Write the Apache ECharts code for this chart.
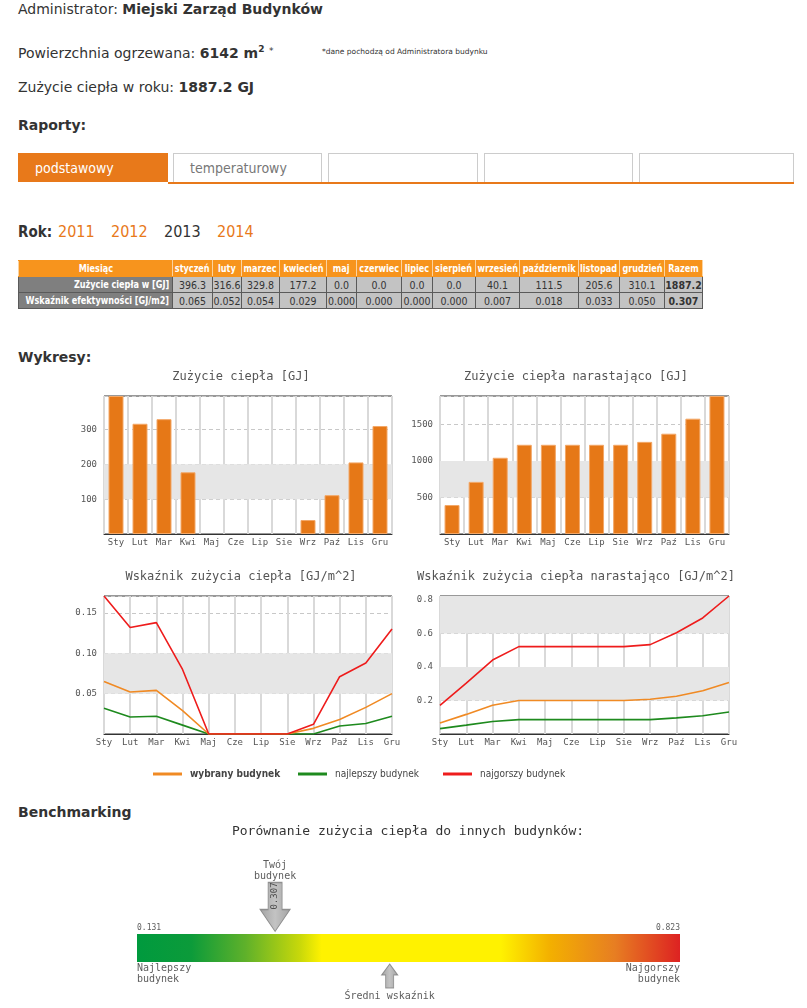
<!DOCTYPE html>
<html><head><meta charset="utf-8">
<script src="https://cdn.jsdelivr.net/npm/echarts@6/dist/echarts.min.js"></script>
<style>
body{margin:0;background:#fff;width:807px;height:1008px;overflow:hidden;position:relative;font-family:"DejaVu Sans",Verdana,sans-serif;color:#333;}
.t{position:absolute;left:18px;font-size:14px;line-height:18px;white-space:nowrap;}
.c{font-family:"DejaVu Sans Condensed","DejaVu Sans",sans-serif;font-stretch:condensed;}
.tab{position:absolute;top:153px;height:29px;width:149px;box-sizing:border-box;border:1px solid #ccc;border-bottom:none;font-size:14px;line-height:29px;padding-left:16px;color:#777;}
.tab.on{background:#e8791a;border-color:#e8791a;color:#fff;}
.yr{position:absolute;top:223px;font-size:16px;line-height:18px;}
table{position:absolute;left:18px;top:260px;width:684px;border-collapse:collapse;table-layout:fixed;font-size:10.5px;font-family:"DejaVu Sans Condensed","DejaVu Sans",sans-serif;font-stretch:condensed;}
td{height:15px;padding:0;border:1px solid #5a5a5a;white-space:nowrap;overflow:hidden;line-height:14px;}
td .f{display:flex;justify-content:center;}
td .f span{flex:none;display:inline-block;white-space:nowrap;}
td.b .f span{transform:scaleX(.82);}
tr.h td{background:#f7941d;color:#fff;font-weight:bold;font-size:11px;border-color:#f7941d #fbd3a0;}
td.lab{background:#7f7f7f;color:#fff;font-weight:bold;font-size:11px;}
td.lab .f{justify-content:flex-end;padding-right:3px;}
td.lab .f span{transform-origin:right center;}
td.v{background:#c3c3c3;color:#333;}
td.tot{font-weight:bold;}
#charts{position:absolute;left:0;top:360px;width:807px;height:430px;}
#bench{position:absolute;left:0;top:820px;width:807px;height:188px;}
</style></head><body>
<div class="t" style="top:0">Administrator: <b>Miejski Zarząd Budynków</b></div>
<div class="t" style="top:40px">Powierzchnia ogrzewana: <b>6142 m<sup style="font-size:9px">2</sup></b> <span style="font-size:9px;vertical-align:4px">*</span></div>
<div class="t" style="left:322px;top:43px;font-size:7.5px">*dane pochodzą od Administratora budynku</div>
<div class="t" style="top:78px">Zużycie ciepła w roku: <b>1887.2 GJ</b></div>
<div class="t" style="top:116px"><b>Raporty:</b></div>
<div class="tab on c" style="left:18px;width:150px">podstawowy</div>
<div class="tab c" style="left:173px">temperaturowy</div>
<div class="tab c" style="left:328px;width:150px"></div>
<div class="tab c" style="left:484px"></div>
<div class="tab c" style="left:639px;width:155px"></div>
<div style="position:absolute;left:168px;top:182px;width:626px;height:2px;background:#e8791a"></div>
<div class="yr c" style="left:18px;font-weight:bold;font-size:15px">Rok:</div>
<div class="yr c" style="left:58px;color:#e8791a">2011</div>
<div class="yr c" style="left:111px;color:#e8791a">2012</div>
<div class="yr c" style="left:164px;color:#333">2013</div>
<div class="yr c" style="left:217px;color:#e8791a">2014</div>
<table id="tbl"></table>
<div class="t" style="top:348px"><b>Wykresy:</b></div>
<div id="charts"></div>
<div class="t" style="top:803px"><b>Benchmarking</b></div>
<div id="bench"></div>
<script>
// ---- data ----
const months = ['Sty','Lut','Mar','Kwi','Maj','Cze','Lip','Sie','Wrz','Paź','Lis','Gru'];
const tableMonths = ['styczeń','luty','marzec','kwiecień','maj','czerwiec','lipiec','sierpień','wrzesień','październik','listopad','grudzień'];
const heatGJ = [396.3,316.6,329.8,177.2,0.0,0.0,0.0,0.0,40.1,111.5,205.6,310.1];
const heatCumGJ = [396.3,712.9,1042.7,1219.9,1219.9,1219.9,1219.9,1219.9,1260.0,1371.5,1577.1,1887.2];
const idxSelected = [0.065,0.052,0.054,0.029,0.000,0.000,0.000,0.000,0.007,0.018,0.033,0.050];
const idxBest = [0.032,0.021,0.022,0.011,0.000,0.000,0.000,0.000,0.000,0.010,0.013,0.022];
const idxWorst = [0.171,0.132,0.138,0.080,0.000,0.000,0.000,0.000,0.012,0.071,0.088,0.130];
const idxSelectedCum = [0.065,0.117,0.171,0.200,0.200,0.200,0.200,0.200,0.207,0.225,0.258,0.307];
const idxBestCum = [0.032,0.053,0.075,0.086,0.086,0.086,0.086,0.086,0.086,0.096,0.109,0.131];
const idxWorstCum = [0.171,0.303,0.441,0.521,0.521,0.521,0.521,0.521,0.533,0.604,0.692,0.823];
const totalGJ = 1887.2;
const totalIdx = 0.307;
const benchBest = 0.131;
const benchWorst = 0.823;
const benchYou = 0.307;
const benchAvg = 0.453;
const colWidths = [154,40,29,38,47,30,45,31,43,44,59,41,45,38];

// ---- table ----
(function(){
  const t = document.getElementById('tbl');
  const cell = (cls, txt) => '<td class="' + cls + '"><div class="f"><span>' + txt + '</span></div></td>';
  let html = '<colgroup>' + colWidths.map(w => '<col style="width:' + w + 'px">').join('') + '</colgroup>';
  html += '<tr class="h">' + cell('b', 'Miesiąc') + tableMonths.map(m => cell('b', m)).join('') + cell('b', 'Razem') + '</tr>';
  html += '<tr>' + cell('lab b', 'Zużycie ciepła w [GJ]') + heatGJ.map(v => cell('v', v.toFixed(1))).join('') + cell('v tot', totalGJ.toFixed(1)) + '</tr>';
  html += '<tr>' + cell('lab b', 'Wskaźnik efektywności [GJ/m2]') + idxSelected.map(v => cell('v', v.toFixed(3))).join('') + cell('v tot', totalIdx.toFixed(3)) + '</tr>';
  t.innerHTML = html;
})();

// ---- charts ----
const mono = '"DejaVu Sans Mono","Liberation Mono",monospace';
const cond = '"DejaVu Sans Condensed","DejaVu Sans",sans-serif';
const lab = {fontFamily: mono, fontSize: 9, color: '#555'};
const C_SEL = '#f08a24', C_BEST = '#1e8a1e', C_WORST = '#ee1c1c', C_BAR = '#e67817';
const band = '#e6e6e6';

function xAx(i, gap){
  return {gridIndex: i, type: 'category', data: months, boundaryGap: gap,
    axisTick: {show: false}, axisLine: {lineStyle: {color: '#333'}},
    axisLabel: Object.assign({}, lab, {margin: 4, interval: 0}),
    splitLine: {show: true, lineStyle: {color: '#d9d9d9', width: 2}}};
}
function yAx(i, max, interval, dec){
  return {gridIndex: i, type: 'value', min: 0, max: max, interval: interval,
    axisLine: {show: false}, axisTick: {show: false},
    axisLabel: Object.assign({}, lab, {margin: 7, showMinLabel: false, showMaxLabel: false,
      formatter: v => v.toFixed(dec)}),
    splitLine: {show: true, lineStyle: {color: '#c8c8c8', type: [4, 3]}}};
}
function title(text, cx, top){
  return {text: text, left: cx, top: top, textAlign: 'center', padding: 0,
    textStyle: {fontFamily: mono, fontSize: 12, fontWeight: 'normal', color: '#555'}};
}
const gridBase = {show: true, borderColor: '#333', borderWidth: 1, backgroundColor: 'transparent', containLabel: false};
function area(ranges){
  return {silent: true, itemStyle: {color: band}, data: ranges.map(r => [{yAxis: r[0]}, {yAxis: r[1]}])};
}
function barSeries(i, data, ranges){
  return {type: 'bar', xAxisIndex: i, yAxisIndex: i, barWidth: 15,
    data: data.map(v => v > 0 ? v : {value: v, itemStyle: {borderWidth: 0}}),
    itemStyle: {color: C_BAR, borderColor: '#f3a868', borderWidth: 1}, markArea: area(ranges), z: 3};
}
function lineSeries(i, name, data, color){
  return {type: 'line', name: name, xAxisIndex: i, yAxisIndex: i, data: data, symbol: 'none',
    lineStyle: {width: 1.6, color: color}, itemStyle: {color: color}};
}
function legendItem(name, left, bold){
  return {left: left, top: 409, padding: 0, icon: 'rect', itemWidth: 29, itemHeight: 3, selectedMode: false,
    textStyle: {fontFamily: cond, fontSize: 10, color: '#444', fontWeight: bold ? 'bold' : 'normal', padding: [0, 0, 0, 3]},
    data: [name]};
}

const chart = echarts.init(document.getElementById('charts'), null, {renderer: 'canvas'});
chart.setOption({
  animation: false,
  title: [
    title('Zużycie ciepła [GJ]', 241, 11),
    title('Zużycie ciepła narastająco [GJ]', 576, 11),
    title('Wskaźnik zużycia ciepła [GJ/m^2]', 241, 211),
    title('Wskaźnik zużycia ciepła narastająco [GJ/m^2]', 576, 211)
  ],
  grid: [
    Object.assign({left: 104, top: 36, width: 288, height: 138}, gridBase),
    Object.assign({left: 440, top: 36, width: 289, height: 138}, gridBase),
    Object.assign({left: 104, top: 236, width: 288, height: 138}, gridBase),
    Object.assign({left: 440, top: 236, width: 289, height: 138}, gridBase)
  ],
  xAxis: [xAx(0, true), xAx(1, true), xAx(2, false), xAx(3, false)],
  yAxis: [
    yAx(0, Math.max(...heatGJ), 100, 0),
    yAx(1, Math.max(...heatCumGJ), 500, 0),
    yAx(2, Math.max(...idxWorst), 0.05, 2),
    yAx(3, Math.max(...idxWorstCum), 0.2, 1)
  ],
  legend: [
    legendItem('wybrany budynek', 153, true),
    legendItem('najlepszy budynek', 298, false),
    legendItem('najgorszy budynek', 443, false)
  ],
  series: [
    barSeries(0, heatGJ, [[100, 200]]),
    barSeries(1, heatCumGJ, [[500, 1000]]),
    Object.assign(lineSeries(2, 'najlepszy budynek', idxBest, C_BEST), {markArea: area([[0.05, 0.10]])}),
    lineSeries(2, 'wybrany budynek', idxSelected, C_SEL),
    lineSeries(2, 'najgorszy budynek', idxWorst, C_WORST),
    Object.assign(lineSeries(3, 'najlepszy budynek', idxBestCum, C_BEST), {markArea: area([[0.2, 0.4], [0.6, Math.max(...idxWorstCum)]])}),
    lineSeries(3, 'wybrany budynek', idxSelectedCum, C_SEL),
    lineSeries(3, 'najgorszy budynek', idxWorstCum, C_WORST)
  ]
});

// ---- benchmarking ----
const bench = echarts.init(document.getElementById('bench'), null, {renderer: 'canvas'});
const bl = {fontFamily: mono, fontSize: 10, color: '#333', lineHeight: 11};
const downArrow = 'path://M8,0 L22,0 L22,27 L30,27 L15,49 L0,27 L8,27 Z';
const upArrow = 'path://M8,0 L16,11 L12,11 L12,24 L4,24 L4,11 L0,11 Z';
const grayFill = new echarts.graphic.LinearGradient(0, 0, 1, 0, [
  {offset: 0, color: '#8c8c8c'}, {offset: 0.5, color: '#b4b4b4'}, {offset: 1, color: '#8c8c8c'}]);
const hidden = {color: 'rgba(0,0,0,0)'};
bench.setOption({
  animation: false,
  title: {text: 'Porównanie zużycia ciepła do innych budynków:', left: 408, top: 5, textAlign: 'center', padding: 0,
    textStyle: {fontFamily: mono, fontSize: 13, fontWeight: 'normal', color: '#333'}},
  grid: {left: 137, top: 114, width: 543, height: 28},
  xAxis: {type: 'value', min: benchBest, max: benchWorst, show: false},
  yAxis: {type: 'value', min: 0, max: 1, show: false},
  series: [
    {type: 'scatter', clip: false, symbolSize: 1, itemStyle: hidden, silent: true,
      data: [
        {value: [benchBest, 1], label: {show: true, position: 'top', align: 'left', distance: 2, formatter: benchBest.toFixed(3), fontFamily: mono, fontSize: 8, color: '#333'}},
        {value: [benchWorst, 1], label: {show: true, position: 'top', align: 'right', distance: 2, formatter: benchWorst.toFixed(3), fontFamily: mono, fontSize: 8, color: '#333'}},
        {value: [benchBest, 0], label: Object.assign({show: true, position: 'bottom', align: 'left', distance: 0, formatter: 'Najlepszy\nbudynek'}, bl)},
        {value: [benchWorst, 0], label: Object.assign({show: true, position: 'bottom', align: 'right', distance: 0, formatter: 'Najgorszy\nbudynek'}, bl)},
        {value: [benchYou, 1], label: Object.assign({show: true, position: 'top', distance: 52, formatter: 'Twój\nbudynek'}, bl)}
      ],
      markArea: {silent: true, itemStyle: {color: new echarts.graphic.LinearGradient(0, 0, 1, 0, [
        {offset: 0, color: '#009a3e'}, {offset: 0.1, color: '#0c9b3a'}, {offset: 0.2, color: '#5fb12a'},
        {offset: 0.3, color: '#c8d80a'}, {offset: 0.34, color: '#fff200'}, {offset: 0.67, color: '#fff200'},
        {offset: 0.76, color: '#f3b000'}, {offset: 0.88, color: '#e77e22'}, {offset: 1, color: '#dd2222'}])},
        data: [[{coord: [benchBest, 0]}, {coord: [benchWorst, 1]}]]}
    },
    {type: 'scatter', clip: false, silent: true, symbol: downArrow, symbolSize: [30, 49], symbolOffset: [0, -27],
      itemStyle: {color: grayFill, borderColor: '#7d7d7d', borderWidth: 1},
      label: {show: true, position: 'inside', rotate: 90, offset: [11, 0], formatter: p => p.value[0].toFixed(3), fontFamily: mono, fontSize: 9, color: '#333'},
      data: [[benchYou, 1]]},
    {type: 'scatter', clip: false, silent: true, symbol: upArrow, symbolSize: [16, 24], symbolOffset: [0, 14],
      itemStyle: {color: grayFill, borderColor: '#7d7d7d', borderWidth: 1},
      label: Object.assign({show: true, position: 'bottom', distance: 2, formatter: 'Średni wskaźnik'}, bl),
      data: [[benchAvg, 0]]}
  ]
});
</script>
</body></html>
